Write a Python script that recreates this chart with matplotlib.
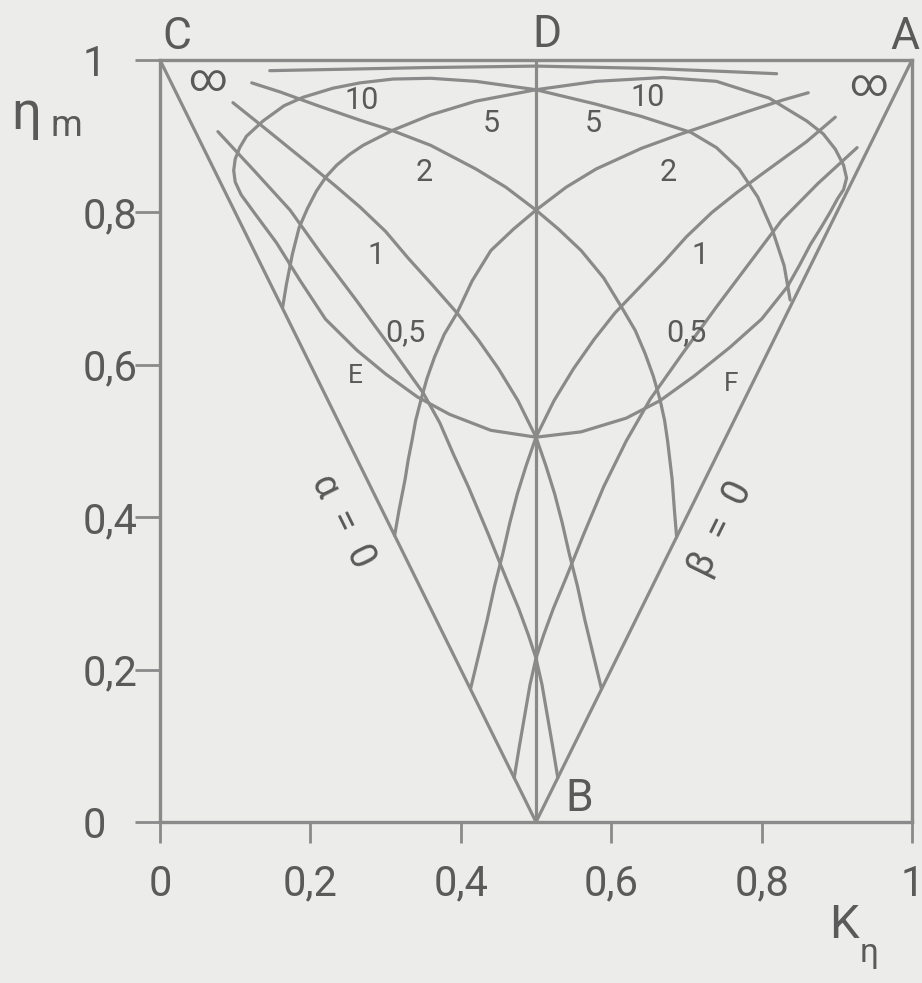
import matplotlib.pyplot as plt

plt.rcParams['font.family'] = ['Roboto', 'DejaVu Sans']

LINE = '#8a8a8a'
INK = '#5a5a5a'
PAPER = '#ececea'

# axis ticks
ticks = [0, 0.2, 0.4, 0.6, 0.8, 1]
tick_labels = ['0', '0,2', '0,4', '0,6', '0,8', '1']

# straight boundary lines: C-B (alpha = 0), A-B (beta = 0), D-B
line_cb_x = [0.0, 0.5]
line_cb_y = [1.0, 0.0]
line_ab_x = [1.0, 0.5]
line_ab_y = [1.0, 0.0]
line_db_x = [0.5, 0.5]
line_db_y = [1.0, 0.0]

# nearly flat curve just under the top edge
top_x = [0.146, 0.25, 0.35, 0.5, 0.65, 0.75, 0.82]
top_y = [0.986, 0.988, 0.990, 0.992, 0.989, 0.985, 0.982]

# looped curve: upper arcs through D and the lower branch through E and F
loop_x = [0.163, 0.168, 0.176, 0.185, 0.196, 0.208, 0.221, 0.235, 0.252, 0.27,
          0.29, 0.31, 0.36, 0.42, 0.5, 0.58, 0.669, 0.74, 0.81, 0.86, 0.882,
          0.898, 0.909, 0.913, 0.909, 0.901, 0.891, 0.879, 0.865, 0.85, 0.834,
          0.80, 0.758, 0.71, 0.665, 0.62, 0.56, 0.5, 0.44, 0.385, 0.342, 0.30,
          0.262, 0.22, 0.186, 0.155, 0.125, 0.108, 0.100, 0.098, 0.100, 0.106,
          0.115, 0.137, 0.165, 0.19, 0.23, 0.266, 0.31, 0.36, 0.42, 0.5, 0.58,
          0.64, 0.706, 0.74, 0.77, 0.795, 0.815, 0.83, 0.838]
loop_y = [0.675, 0.705, 0.745, 0.78, 0.805, 0.828, 0.847, 0.862, 0.876, 0.888,
          0.898, 0.908, 0.928, 0.946, 0.961, 0.972, 0.977, 0.972, 0.95, 0.92,
          0.903, 0.883, 0.862, 0.845, 0.83, 0.818, 0.80, 0.78, 0.758, 0.73,
          0.702, 0.66, 0.623, 0.585, 0.553, 0.53, 0.512, 0.505, 0.514, 0.535,
          0.558, 0.588, 0.619, 0.66, 0.711, 0.76, 0.80, 0.823, 0.84, 0.855,
          0.87, 0.885, 0.90, 0.92, 0.94, 0.951, 0.963, 0.970, 0.975, 0.976,
          0.972, 0.961, 0.942, 0.926, 0.905, 0.885, 0.857, 0.82, 0.775, 0.73,
          0.685]

# curves starting free at the upper left
l10_x = [0.122, 0.16, 0.21, 0.266, 0.31, 0.36, 0.42, 0.46, 0.5, 0.53, 0.56,
         0.59, 0.616, 0.632, 0.645, 0.656, 0.665, 0.671, 0.675, 0.678, 0.681,
         0.684, 0.687]
l10_y = [0.970, 0.958, 0.940, 0.921, 0.907, 0.888, 0.857, 0.833, 0.803, 0.778,
         0.75, 0.714, 0.672, 0.645, 0.615, 0.585, 0.554, 0.527, 0.50, 0.475,
         0.45, 0.41, 0.374]
l3_x = [0.097, 0.14, 0.20, 0.233, 0.266, 0.30, 0.33, 0.362, 0.395, 0.423, 0.45,
        0.476, 0.5, 0.513, 0.525, 0.535, 0.544, 0.555, 0.565, 0.576, 0.587]
l3_y = [0.944, 0.91, 0.862, 0.835, 0.807, 0.775, 0.74, 0.705, 0.668, 0.633,
        0.595, 0.553, 0.505, 0.468, 0.43, 0.392, 0.353, 0.31, 0.265, 0.22, 0.175]
l4_x = [0.077, 0.125, 0.173, 0.215, 0.26, 0.305, 0.35, 0.372, 0.39, 0.41, 0.436,
        0.461, 0.477, 0.49, 0.5, 0.508, 0.515, 0.522, 0.529]
l4_y = [0.906, 0.855, 0.803, 0.745, 0.686, 0.625, 0.563, 0.524, 0.483, 0.44,
        0.379, 0.318, 0.28, 0.245, 0.215, 0.18, 0.14, 0.10, 0.058]

# curves starting free at the upper right
r10_x = [0.862, 0.83, 0.78, 0.735, 0.69, 0.64, 0.58, 0.54, 0.5, 0.47, 0.44,
         0.415, 0.395, 0.378, 0.365, 0.355, 0.347, 0.34, 0.335, 0.33, 0.326,
         0.318, 0.312]
r10_y = [0.957, 0.948, 0.932, 0.917, 0.902, 0.884, 0.857, 0.833, 0.803, 0.778,
         0.75, 0.71, 0.668, 0.64, 0.61, 0.582, 0.554, 0.527, 0.50, 0.475,
         0.45, 0.41, 0.376]
r3_x = [0.898, 0.86, 0.80, 0.767, 0.734, 0.70, 0.67, 0.638, 0.605, 0.577, 0.55,
        0.524, 0.5, 0.487, 0.475, 0.465, 0.456, 0.445, 0.435, 0.424, 0.413]
r3_y = [0.925, 0.893, 0.85, 0.826, 0.80, 0.768, 0.735, 0.702, 0.668, 0.633,
        0.595, 0.553, 0.505, 0.468, 0.43, 0.392, 0.353, 0.31, 0.265, 0.22, 0.175]
r4_x = [0.927, 0.875, 0.827, 0.785, 0.74, 0.695, 0.652, 0.62, 0.605, 0.59,
        0.564, 0.539, 0.523, 0.51, 0.5, 0.492, 0.485, 0.478, 0.471]
r4_y = [0.885, 0.838, 0.79, 0.735, 0.676, 0.615, 0.555, 0.50, 0.47, 0.44,
        0.379, 0.318, 0.28, 0.245, 0.215, 0.18, 0.14, 0.10, 0.058]

# curve parameter labels
left_labels = ['∞', '10', '5', '2', '1', '0,5']
left_lx = [0.063, 0.268, 0.441, 0.351, 0.287, 0.326]
left_ly = [0.973, 0.947, 0.917, 0.853, 0.744, 0.642]
right_labels = ['∞', '10', '5', '2', '1', '0,5']
right_lx = [0.942, 0.649, 0.576, 0.676, 0.718, 0.700]
right_ly = [0.966, 0.951, 0.917, 0.853, 0.744, 0.642]

fig = plt.figure(figsize=(9.22, 9.83), dpi=100, facecolor=PAPER)
ax = fig.add_axes([160 / 922, 161 / 983, 752 / 922, 762 / 983])
ax.set_facecolor(PAPER)

curve_kw = dict(color=LINE, lw=2.3, solid_capstyle='round', solid_joinstyle='round')
for xs, ys in [(line_cb_x, line_cb_y), (line_ab_x, line_ab_y), (line_db_x, line_db_y),
               (top_x, top_y), (loop_x, loop_y),
               (l10_x, l10_y), (l3_x, l3_y), (l4_x, l4_y),
               (r10_x, r10_y), (r3_x, r3_y), (r4_x, r4_y)]:
    ax.plot(xs, ys, **curve_kw)

ax.set_xlim(0, 1)
ax.set_ylim(0, 1)
for sp in ax.spines.values():
    sp.set_color(LINE)
    sp.set_linewidth(2.4)

ax.set_xticks(ticks)
ax.set_xticklabels(tick_labels)
ax.set_yticks(ticks)
ax.set_yticklabels(tick_labels, ha='left')
ax.tick_params(axis='x', direction='out', length=15, width=2, color=LINE,
               labelsize=30, labelcolor=INK, pad=15)
ax.tick_params(axis='y', direction='out', length=18, width=2, color=LINE,
               labelsize=30, labelcolor=INK, pad=38)

# axis titles
ax.text(-0.178, 0.928, 'η', fontsize=38, color=INK, ha='center', va='center', clip_on=False)
ax.text(-0.124, 0.913, 'm', fontsize=26, color=INK, ha='center', va='center', clip_on=False)
ax.text(0.91, -0.135, 'K', fontsize=34, color=INK, ha='center', va='center', clip_on=False)
ax.text(0.943, -0.172, 'η', fontsize=24, color=INK, ha='center', va='center', clip_on=False)

# corner letters
pt_kw = dict(color=INK, ha='center', va='center', clip_on=False)
ax.text(0.022, 1.03, 'C', fontsize=32, **pt_kw)
ax.text(0.515, 1.033, 'D', fontsize=32, **pt_kw)
ax.text(0.99, 1.03, 'A', fontsize=32, **pt_kw)
ax.text(0.558, 0.03, 'B', fontsize=32, **pt_kw)
ax.text(0.26, 0.585, 'E', fontsize=19, **pt_kw)
ax.text(0.76, 0.575, 'F', fontsize=19, **pt_kw)
ax.text(0.243, 0.395, 'α  =  0', fontsize=27, rotation=-63.7, rotation_mode='anchor', **pt_kw)
ax.text(0.745, 0.385, 'β  =  0', fontsize=27, rotation=63.7, rotation_mode='anchor', **pt_kw)

for s, x, y in zip(left_labels, left_lx, left_ly):
    ax.text(x, y, s, fontsize=27 if s == '∞' else 22, **pt_kw)
for s, x, y in zip(right_labels, right_lx, right_ly):
    ax.text(x, y, s, fontsize=27 if s == '∞' else 22, **pt_kw)

fig.savefig('out.png', dpi=100, facecolor=PAPER)
